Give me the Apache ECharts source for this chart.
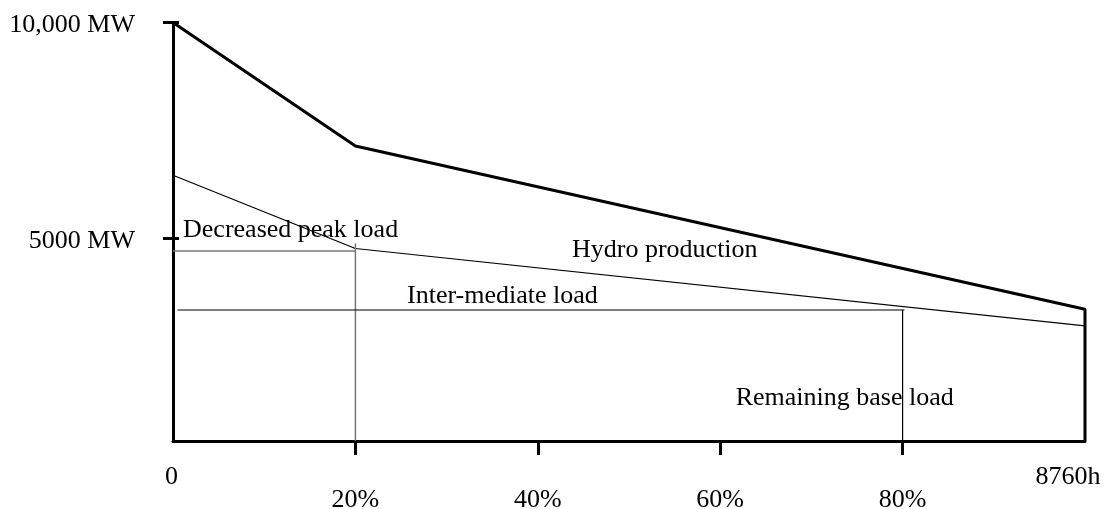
<!DOCTYPE html>
<html>
<head>
<meta charset="utf-8">
<script src="https://cdn.jsdelivr.net/npm/echarts@6/dist/echarts.min.js"></script>
<style>
html,body{margin:0;padding:0;background:#fff;}
#chart{width:1104px;height:509px;}
</style>
</head>
<body>
<div id="chart"></div>
<script>
// ---- data (x in % of the year, y in MW) ----
var loadCurve = [[0, 10000], [20, 7050], [100, 3150], [100, 0]];
var hydroReducedCurve = [[0, 6350], [20, 4600], [100, 2750]];
var peakLevelLine = [[0, 4540], [20, 4540]];
var peakDivider = [[20, 4720], [20, 0]];
var baseLevelLine = [[0.5, 3130], [80.2, 3130]];
var baseDivider = [[80, 3130], [80, 0]];

var xTickValues = [20, 40, 60, 80];
var xLabelValues = [0, 20, 40, 60, 80, 100];
var xLabelTexts = ['0', '20%', '40%', '60%', '80%', '8760h'];
var yTickValues = [4850, 10000];
var yLabelTexts = ['5000 MW', '10,000 MW'];

var areaNames = ['Decreased peak load', 'Hydro production', 'Inter-mediate load', 'Remaining base load'];
var areaLabelPos = [[1.1, 5041], [43.75, 4564], [25.66, 3464], [61.7, 1027]];

var FONT = '"Liberation Serif", "Times New Roman", serif';

var chart = echarts.init(document.getElementById('chart'), null, {renderer: 'canvas'});

function lineSeries(data, width, color) {
  return {
    type: 'line', data: data, symbol: 'none', clip: false, silent: true,
    lineStyle: {width: width, color: color}, z: 3
  };
}

var option = {
  animation: false,
  backgroundColor: '#fff',
  grid: {left: 173, right: 19, top: 22.5, bottom: 68, containLabel: false, outerBoundsMode: 'none'},
  xAxis: {
    type: 'value', min: 0, max: 100,
    splitLine: {show: false},
    axisLine: {show: true, lineStyle: {color: '#000', width: 3}},
    axisTick: {show: true, customValues: xTickValues, length: 14, lineStyle: {color: '#000', width: 3}},
    axisLabel: {
      show: true, customValues: xLabelValues, margin: 23,
      fontFamily: FONT, fontSize: 26, color: '#000',
      formatter: function (v) {
        var i = xLabelValues.indexOf(v);
        var t = xLabelTexts[i];
        if (v === 0) return '{z|' + t + '}';
        if (v === 100) return '{h|' + t + '}';
        return '{p|' + t + '}';
      },
      rich: {
        z: {fontFamily: FONT, fontSize: 26, color: '#000', padding: [0, 3, 0, 0]},
        h: {fontFamily: FONT, fontSize: 26, color: '#000', padding: [0, 34, 0, 0]},
        p: {fontFamily: FONT, fontSize: 26, color: '#000', padding: [23, 0, 0, 0]}
      }
    }
  },
  yAxis: [{
    type: 'value', min: 0, max: 10000,
    splitLine: {show: false},
    axisLine: {show: true, lineStyle: {color: '#000', width: 3}},
    axisTick: {show: true, customValues: yTickValues, length: 10, lineStyle: {color: '#000', width: 3}},
    axisLabel: {
      show: true, customValues: yTickValues, margin: 38,
      fontFamily: FONT, fontSize: 26, color: '#000',
      formatter: function (v) { return '{m|' + yLabelTexts[yTickValues.indexOf(v)] + '}'; },
      rich: {
        m: {fontFamily: FONT, fontSize: 26, color: '#000', padding: [6, 0, 0, 0]}
      }
    }
  }, {
    type: 'value', min: 0, max: 10000, position: 'left',
    splitLine: {show: false},
    axisLine: {show: false},
    axisTick: {show: true, inside: true, customValues: yTickValues, length: 6, lineStyle: {color: '#000', width: 3}},
    axisLabel: {show: false}
  }],
  series: [
    lineSeries(loadCurve, 3, '#000'),
    lineSeries(hydroReducedCurve, 1.2, '#000'),
    lineSeries(peakLevelLine, 1.5, '#777'),
    lineSeries(peakDivider, 1.5, '#777'),
    lineSeries(baseLevelLine, 1.2, '#000'),
    lineSeries(baseDivider, 1.2, '#000'),
    {
      type: 'scatter', symbolSize: 0, silent: true, z: 5,
      itemStyle: {opacity: 1},
      data: areaNames.map(function (n, i) { return {name: n, value: areaLabelPos[i]}; }),
      label: {
        show: true, position: 'right', distance: 0, opacity: 1,
        fontFamily: FONT, fontSize: 26, color: '#000',
        formatter: function (p) { return p.name; }
      }
    }
  ]
};
chart.setOption(option);
</script>
</body>
</html>
